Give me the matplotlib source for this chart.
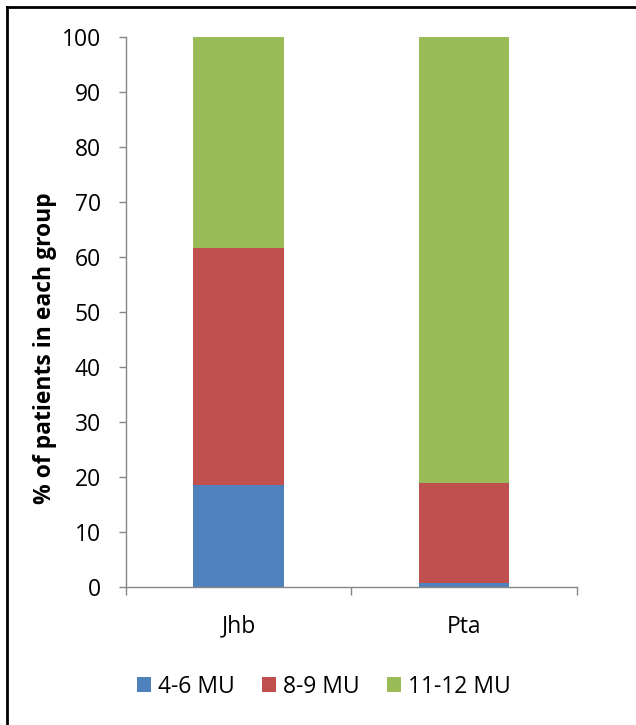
import numpy as np
import matplotlib.pyplot as plt
from matplotlib.lines import Line2D

plt.rcParams['font.family'] = ['Open Sans', 'DejaVu Sans']

# données
groups = ["Jhb", "Pta"]
series = ["4-6 MU", "8-9 MU", "11-12 MU"]
mu_4_6 = [18.6, 0.7]
mu_8_9 = [43.0, 18.2]
mu_11_12 = [38.4, 81.1]
colors = ["#4F81BD", "#C0504D", "#9BBB59"]
y_ticks = [0, 10, 20, 30, 40, 50, 60, 70, 80, 90, 100]

fig = plt.figure(figsize=(6.36, 7.25), dpi=100)
ax = fig.add_axes([0.1977, 0.1903, 0.7093, 0.7587])

x = np.arange(len(groups))
bottom = np.zeros(len(groups))
for vals, lab, col in zip([mu_4_6, mu_8_9, mu_11_12], series, colors):
    ax.bar(x, vals, width=0.40, bottom=bottom, color=col, label=lab, linewidth=0)
    bottom += np.array(vals)

ax.set_xlim(-0.5, len(groups) - 0.5)
ax.set_ylim(0, 100)
ax.set_yticks(y_ticks)
ax.tick_params(axis='y', labelsize=16.5, length=5, width=1, color='#868686', pad=13)

# libellés au centre, traits aux limites des catégories
ax.set_xticks(x)
ax.set_xticklabels(groups, fontsize=16.5)
ax.tick_params(axis='x', which='major', length=0, pad=20)
ax.set_xticks(np.arange(-0.5, len(groups)), minor=True)
ax.tick_params(axis='x', which='minor', length=6, width=1, color='#868686')

for s in ['top', 'right']:
    ax.spines[s].set_visible(False)
for s in ['left', 'bottom']:
    ax.spines[s].set_color('#868686')
    ax.spines[s].set_linewidth(1)

ax.set_ylabel("% of patients in each group", fontsize=16.5, fontweight='bold')
ax.yaxis.set_label_coords(-0.152, 0.435)

fig.legend(loc='center', bbox_to_anchor=(0.509, 0.053), ncol=3, frameon=False,
           fontsize=16.5, handlelength=0.62, handleheight=0.62, handletextpad=0.3,
           columnspacing=1.2)

# cadre (bords gauche et haut seulement)
fig.add_artist(Line2D([0.011, 0.011], [0, 0.9905], transform=fig.transFigure, color='black', lw=2))
fig.add_artist(Line2D([0.011, 1], [0.9905, 0.9905], transform=fig.transFigure, color='black', lw=2))

fig.savefig("out.png", dpi=100)
